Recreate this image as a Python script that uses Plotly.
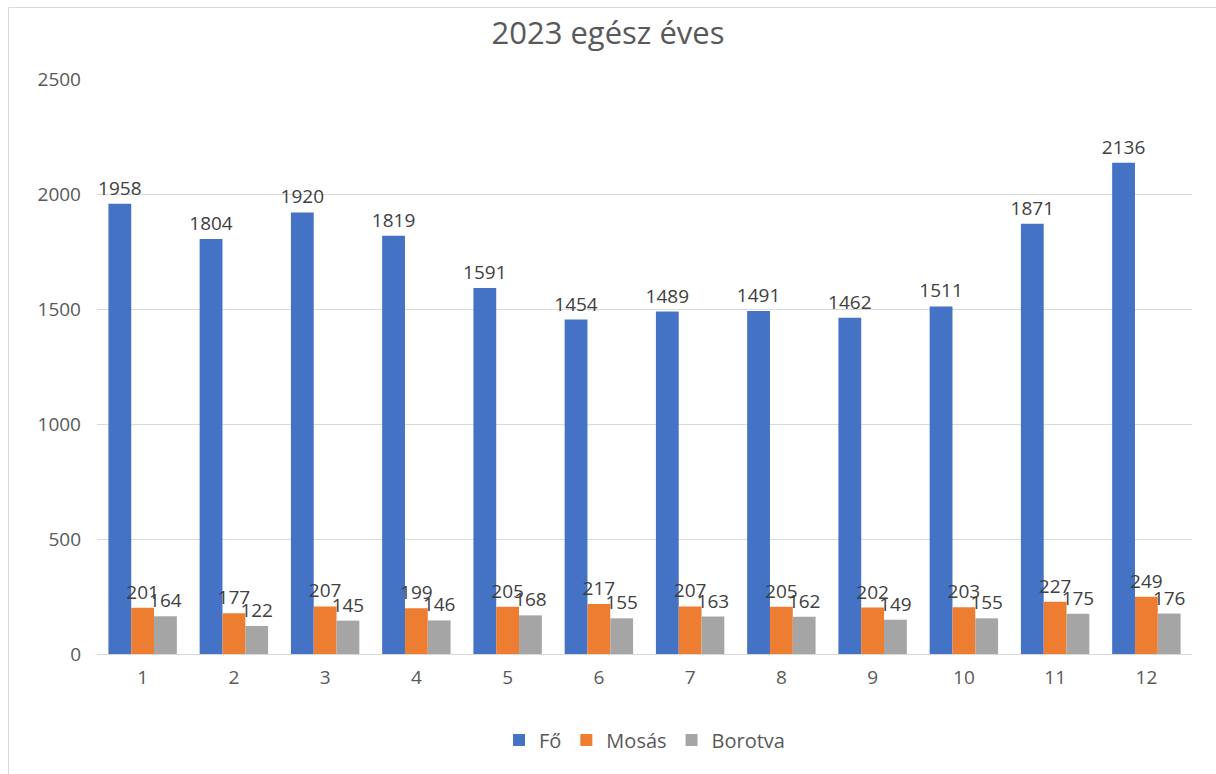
import plotly.graph_objects as go

months = ["1", "2", "3", "4", "5", "6", "7", "8", "9", "10", "11", "12"]
fo = [1958, 1804, 1920, 1819, 1591, 1454, 1489, 1491, 1462, 1511, 1871, 2136]
mosas = [201, 177, 207, 199, 205, 217, 207, 205, 202, 203, 227, 249]
borotva = [164, 122, 145, 146, 168, 155, 163, 162, 149, 155, 175, 176]

series = [("Fő", fo, "#4472C4"), ("Mosás", mosas, "#ED7D31"), ("Borotva", borotva, "#A5A5A5")]

W, H = 1216, 774
L, R, T, B = 97, 24, 79, 120
pw, ph = W - L - R, H - T - B

fig = go.Figure()
for name, vals, col in series:
    fig.add_trace(go.Bar(
        x=months, y=vals, name=name, marker=dict(color=col, line=dict(width=0)),
        text=[str(v) for v in vals], textposition="outside", constraintext="none",
        cliponaxis=False, textfont=dict(size=19, color="#404040", family="Open Sans"),
    ))

def px_x(p):
    return (p - L) / pw

def px_y(p):
    return (H - B - p) / ph

fig.update_layout(
    width=W, height=H,
    margin=dict(l=L, r=R, t=T, b=B),
    paper_bgcolor="white", plot_bgcolor="white",
    barmode="group", bargap=0.25, bargroupgap=0,
    font=dict(family="Open Sans", color="#595959"),
    title=dict(text="2023 egész éves", x=0.5, xanchor="center", y=1 - 33 / H, yanchor="middle",
               font=dict(size=31, color="#595959", family="Open Sans")),
    yaxis=dict(range=[0, 2500], dtick=500, showgrid=True, gridcolor="#D9D9D9", gridwidth=1,
               zeroline=False, showline=False, ticks="", ticklabelstandoff=15,
               tickfont=dict(size=19, color="#595959")),
    xaxis=dict(showline=True, linecolor="#D9D9D9", linewidth=1, ticks="",
               tickfont=dict(size=19, color="#595959"), ticklabelstandoff=6),
    legend=dict(orientation="h", x=0.5, xanchor="center", y=px_y(740), yanchor="middle",
                font=dict(size=20, color="#595959"), itemwidth=30, traceorder="normal"),
    showlegend=True,
    shapes=[dict(type="rect", xref="paper", yref="paper",
                 x0=px_x(8.5), x1=px_x(1230), y0=px_y(790), y1=px_y(7.5),
                 line=dict(color="#D9D9D9", width=1), fillcolor="rgba(0,0,0,0)", layer="below")],
)

fig.write_html("out.html")
